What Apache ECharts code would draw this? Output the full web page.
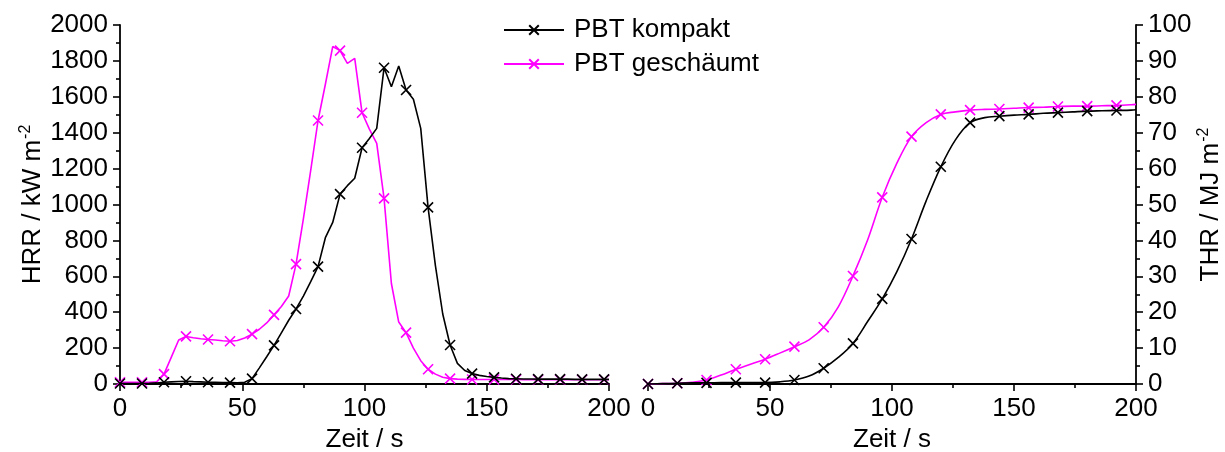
<!DOCTYPE html>
<html>
<head>
<meta charset="utf-8">
<script src="https://cdn.jsdelivr.net/npm/echarts@6/dist/echarts.min.js"></script>
<style>
  html, body { margin: 0; padding: 0; background: #fff; }
  #chart { width: 1225px; height: 452px; }
</style>
</head>
<body>
<div id="chart"></div>
<script>
// Time stamps (s) of the heat release rate record
const hrrTime = [0,3,6,9,12,15,18,21,24,27,30,33,36,39,42,45,48,51,54,57,60,63,66,69,72,75,78,81,84,87,90,93,96,99,
  102,105,108,111,114,117,120,123,126,129,132,135,138,141,144,147,150,153,156,159,162,165,168,171,174,177,180,183,186,189,192,195,198,200];

// HRR / kW m^-2
const hrrKompakt = [3,3,3,3,4,6,10,12,14,15,13,12,10,9,8,8,7,10,30,90,152,215,285,355,418,490,570,654,815,900,1058,1105,1146,1316,
  1368,1424,1762,1656,1772,1638,1586,1424,984,660,390,217,115,75,58,48,42,37,33,30,29,28,28,27,27,27,27,27,26,26,26,26,26,26];
const hrrGeschaeumt = [10,10,10,10,10,12,55,150,245,265,258,252,248,245,241,238,242,256,278,305,340,385,432,490,668,920,1190,1468,1670,1880,1857,1786,1814,1511,
  1420,1341,1034,560,345,286,200,130,82,55,38,30,27,26,25,25,25,25,25,25,25,24,24,24,24,24,24,24,24,24,24,24,24,24];

// Time stamps (s) of the total heat release record
const thrTime = [0,6,12,18,24,30,36,42,48,54,60,66,72,78,84,90,96,102,108,114,120,126,132,138,144,150,156,162,168,174,180,186,192,198,200];

// THR / MJ m^-2
const thrKompakt = [0,0.1,0.2,0.3,0.3,0.4,0.4,0.4,0.4,0.6,1.1,2.2,4.4,7.4,11.3,17.4,23.7,31.3,40.4,51.0,60.5,68.0,72.8,74.2,74.6,74.9,75.1,75.4,75.6,75.8,76.0,76.1,76.2,76.3,76.4];
const thrGeschaeumt = [0,0.1,0.2,0.5,1.1,2.5,4.1,5.5,6.9,8.6,10.4,12.3,15.8,21.5,30.1,40.1,52.0,61.5,68.9,72.8,75.1,75.8,76.3,76.5,76.6,76.8,77.0,77.1,77.3,77.4,77.4,77.5,77.6,77.8,77.9];

const seriesNames = ['PBT kompakt', 'PBT geschäumt'];
const xTicks = { min: 0, max: 200, interval: 50 };
const hrrTicks = { min: 0, max: 2000, interval: 200 };
const thrTicks = { min: 0, max: 100, interval: 10 };

const FONT = 'Liberation Sans';
const BLACK = '#000000';
const MAGENTA = '#ff00ff';
const CROSS = 'path://M0,0L10,10M10,0L0,10';

function pairs(xs, ys) { return xs.map((x, i) => [x, ys[i]]); }
const plain = (v) => String(v);

const axisCommon = {
  axisLine: { show: true, onZero: false, lineStyle: { color: BLACK, width: 1.8 } },
  axisTick: { show: true, inside: false, length: 7, lineStyle: { color: BLACK, width: 1.6 } },
  minorTick: { show: true, splitNumber: 2, length: 4, lineStyle: { color: BLACK, width: 1.6 } },
  splitLine: { show: false },
  axisLabel: { color: BLACK, fontSize: 26, fontFamily: FONT, formatter: plain },
  nameTextStyle: {
    color: BLACK, fontSize: 26, fontFamily: FONT,
    rich: {
      a: { fontSize: 26, fontFamily: FONT, color: BLACK, verticalAlign: 'bottom' },
      sup: { fontSize: 16, fontFamily: FONT, color: BLACK, verticalAlign: 'bottom', padding: [0, 0, 13, 1] }
    }
  }
};

function lineSeries(name, color, data, xi, yi, every, smooth) {
  return {
    name, type: 'line', xAxisIndex: xi, yAxisIndex: yi,
    data, smooth: smooth,
    showSymbol: true, showAllSymbol: true,
    symbol: CROSS,
    symbolSize: (v) => (v[0] % every === 0 ? 10 : 0),
    lineStyle: { color, width: 1.6 },
    itemStyle: { color, borderColor: color, borderWidth: 1.6 },
    emphasis: { disabled: true },
    z: name === seriesNames[0] ? 3 : 2
  };
}

const chart = echarts.init(document.getElementById('chart'), null, { renderer: 'canvas' });
chart.setOption({
  animation: false,
  textStyle: { fontFamily: FONT },
  legend: {
    orient: 'vertical', left: 498, top: 12,
    itemWidth: 60, itemHeight: 12, itemGap: 8,
    data: seriesNames,
    textStyle: { fontSize: 26, color: BLACK, fontFamily: FONT, padding: [0, 0, 0, 5] }
  },
  grid: [
    { left: 120, top: 25, width: 489, height: 359, outerBoundsMode: 'none', containLabel: false },
    { left: 648, top: 25, width: 488, height: 359, outerBoundsMode: 'none', containLabel: false }
  ],
  xAxis: [
    Object.assign({}, axisCommon, xTicks, {
      type: 'value', gridIndex: 0, name: '{a|Zeit / s}', nameLocation: 'middle', nameGap: 41,
      axisLabel: Object.assign({}, axisCommon.axisLabel, { margin: 12 })
    }),
    Object.assign({}, axisCommon, xTicks, {
      type: 'value', gridIndex: 1, name: '{a|Zeit / s}', nameLocation: 'middle', nameGap: 41,
      axisLabel: Object.assign({}, axisCommon.axisLabel, { margin: 12 })
    })
  ],
  yAxis: [
    Object.assign({}, axisCommon, hrrTicks, {
      type: 'value', gridIndex: 0, position: 'left',
      name: '{a|HRR / kW m}{sup|-2}', nameLocation: 'middle', nameRotate: 90, nameGap: 72,
      axisLabel: Object.assign({}, axisCommon.axisLabel, { margin: 12 })
    }),
    Object.assign({}, axisCommon, thrTicks, {
      type: 'value', gridIndex: 1, position: 'right',
      name: '{a|THR / MJ m}{sup|-2}', nameLocation: 'middle', nameRotate: 90, nameGap: 54,
      axisLabel: Object.assign({}, axisCommon.axisLabel, { margin: 12 })
    })
  ],
  series: [
    lineSeries(seriesNames[1], MAGENTA, pairs(hrrTime, hrrGeschaeumt), 0, 0, 9, false),
    lineSeries(seriesNames[0], BLACK, pairs(hrrTime, hrrKompakt), 0, 0, 9, false),
    lineSeries(seriesNames[1], MAGENTA, pairs(thrTime, thrGeschaeumt), 1, 1, 12, 0.35),
    lineSeries(seriesNames[0], BLACK, pairs(thrTime, thrKompakt), 1, 1, 12, 0.35)
  ]
});
</script>
</body>
</html>
